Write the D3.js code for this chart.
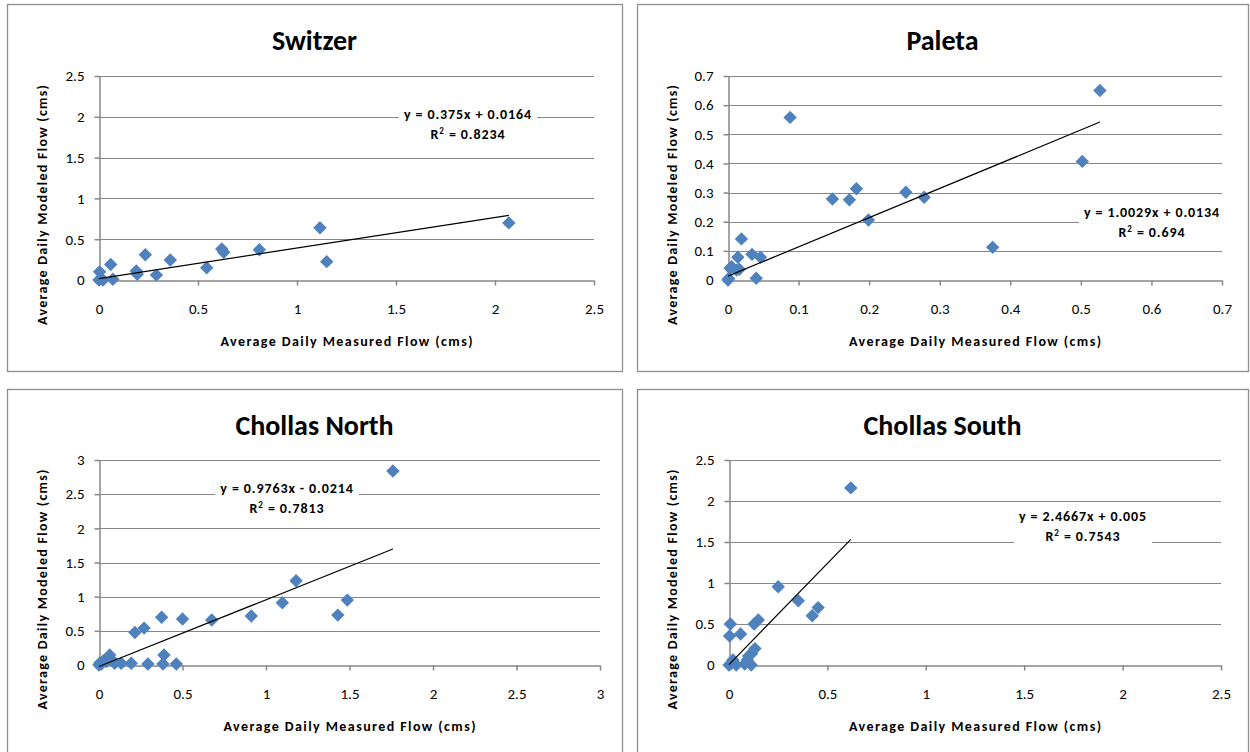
<!DOCTYPE html>
<html>
<head>
<meta charset="utf-8">
<script src="https://cdn.jsdelivr.net/npm/d3@7"></script>
<style>
body { margin: 0; background: #fff; }
svg text { font-family: Carlito, Calibri, Lato, sans-serif; fill: #000; }
</style>
</head>
<body>
<svg id="chart" width="1250" height="752"></svg>
<script>
// values (cms)
const switzerX = [0, 0.003, 0.01, 0.02, 0.059, 0.07, 0.188, 0.193, 0.234, 0.29, 0.36, 0.544, 0.62, 0.63, 0.81, 1.116, 1.15, 2.07]
const switzerY = [0, 0.10, 0.02, 0.0, 0.19, 0.01, 0.11, 0.07, 0.31, 0.06, 0.245, 0.15, 0.38, 0.34, 0.37, 0.64, 0.225, 0.70]
const switzerFit = [0.375, 0.0164, 0.8234]

const paletaX = [0, 0.001, 0.003, 0.005, 0.012, 0.014, 0.016, 0.019, 0.034, 0.04, 0.046, 0.088, 0.148, 0.172, 0.182, 0.199, 0.252, 0.278, 0.375, 0.502, 0.527]
const paletaY = [0, 0.005, 0.04, 0.046, 0.034, 0.078, 0.037, 0.141, 0.088, 0.006, 0.078, 0.558, 0.278, 0.275, 0.313, 0.206, 0.301, 0.284, 0.112, 0.407, 0.650]
const paletaFit = [1.0029, 0.0134, 0.694]

const northX = [0, 0.005, 0.014, 0.025, 0.044, 0.064, 0.07, 0.094, 0.133, 0.193, 0.215, 0.27, 0.293, 0.375, 0.383, 0.389, 0.463, 0.50, 0.675, 0.912, 1.098, 1.18, 1.43, 1.487, 1.76]
const northY = [0, 0.03, 0.015, 0.06, 0.05, 0.146, 0.09, 0.025, 0.025, 0.025, 0.475, 0.54, 0.015, 0.698, 0.015, 0.146, 0.015, 0.673, 0.659, 0.717, 0.91, 1.234, 0.73, 0.95, 2.84]
const northFit = [0.9763, -0.0214, 0.7813]

const southX = [0, 0.003, 0.007, 0.012, 0.02, 0.037, 0.059, 0.08, 0.093, 0.10, 0.113, 0.115, 0.128, 0.132, 0.149, 0.25, 0.352, 0.423, 0.453, 0.619]
const southY = [0, 0.354, 0.50, 0.02, 0.06, 0.0, 0.378, 0.012, 0.06, 0.11, 0.0, 0.14, 0.50, 0.20, 0.55, 0.955, 0.784, 0.60, 0.70, 2.16]
const southFit = [2.4667, 0.005, 0.7543]

const titles = ['Switzer', 'Paleta', 'Chollas North', 'Chollas South']
const xMaxes = [2.5, 0.7, 3, 2.5]
const yMaxes = [2.5, 0.7, 3, 2.5]
const xSteps = [0.5, 0.1, 0.5, 0.5]
const ySteps = [0.5, 0.1, 0.5, 0.5]
const xLabel = 'Average Daily Measured Flow (cms)'
const yLabel = 'Average Daily Modeled Flow (cms)'

// layout: panel box, plot area and where the trendline label sits
const panels = [
  {title: titles[0], xs: switzerX, ys: switzerY, fit: switzerFit, xMax: xMaxes[0], yMax: yMaxes[0], xStep: xSteps[0], yStep: ySteps[0],
   box: [7, 4, 615, 367], plot: [99, 76, 594, 280], lab: [468, 119]},
  {title: titles[1], xs: paletaX, ys: paletaY, fit: paletaFit, xMax: xMaxes[1], yMax: yMaxes[1], xStep: xSteps[1], yStep: ySteps[1],
   box: [637, 4, 611, 367], plot: [728, 76, 1222, 280], lab: [1152, 217]},
  {title: titles[2], xs: northX, ys: northY, fit: northFit, xMax: xMaxes[2], yMax: yMaxes[2], xStep: xSteps[2], yStep: ySteps[2],
   box: [7, 389, 615, 372], plot: [99, 460, 600, 665], lab: [287, 493]},
  {title: titles[3], xs: southX, ys: southY, fit: southFit, xMax: xMaxes[3], yMax: yMaxes[3], xStep: xSteps[3], yStep: ySteps[3],
   box: [637, 389, 611, 372], plot: [729, 460, 1221, 665], lab: [1083, 521]}
]

const gridColor = '#878787'
const markColor = '#4f81bd'
const fmt = d3.format('~g')

const svg = d3.select('#chart')

panels.forEach(function(p) {
  const [bx, by, bw, bh] = p.box
  const [px0, py0, px1, py1] = p.plot
  const g = svg.append('g')

  g.append('rect')
    .attr('x', bx + 0.5).attr('y', by + 0.5)
    .attr('width', bw).attr('height', bh)
    .attr('fill', '#fff')
    .attr('stroke', '#8f8f8f')
    .attr('stroke-width', 1.3)

  const x = d3.scaleLinear().domain([0, p.xMax]).range([px0, px1])
  const y = d3.scaleLinear().domain([0, p.yMax]).range([py1, py0])
  const xTicks = d3.range(0, p.xMax + p.xStep / 2, p.xStep).map(v => +v.toFixed(3))
  const yTicks = d3.range(0, p.yMax + p.yStep / 2, p.yStep).map(v => +v.toFixed(3))

  // horizontal gridlines
  g.append('g').selectAll('line')
    .data(yTicks.slice(1))
    .enter().append('line')
    .attr('x1', px0).attr('x2', px1)
    .attr('y1', d => Math.round(y(d)) + 0.5).attr('y2', d => Math.round(y(d)) + 0.5)
    .attr('stroke', gridColor)
    .attr('stroke-width', 1.2)

  const xAxis = g.append('g')
    .attr('transform', 'translate(0,' + (Math.round(py1) + 0.5) + ')')
    .call(d3.axisBottom(x).tickValues(xTicks).tickFormat(fmt).tickSize(5).tickSizeOuter(0).tickPadding(18))
  const yAxis = g.append('g')
    .attr('transform', 'translate(' + (Math.round(px0) + 0.5) + ',0)')
    .call(d3.axisLeft(y).tickValues(yTicks).tickFormat(fmt).tickSize(5).tickSizeOuter(0).tickPadding(10))

  ;[xAxis, yAxis].forEach(function(a) {
    a.selectAll('path, line').attr('stroke', gridColor).attr('stroke-width', 1.5)
    a.selectAll('text').style('font-size', '15px').attr('fill', '#000')
  })

  // title and axis titles
  g.append('text')
    .attr('x', bx + bw / 2).attr('y', by + 46)
    .attr('text-anchor', 'middle')
    .style('font-size', '28px').style('font-weight', 'bold')
    .text(p.title)

  g.append('text')
    .attr('x', (px0 + px1) / 2).attr('y', py1 + 66)
    .attr('text-anchor', 'middle')
    .attr('textLength', 252).attr('lengthAdjust', 'spacing')
    .style('font-size', '14px').style('font-weight', 'bold')
    .text(xLabel)

  g.append('text')
    .attr('transform', 'translate(' + (bx + 35) + ',' + ((py0 + py1) / 2 + 27) + ') rotate(-90)')
    .attr('text-anchor', 'middle')
    .attr('dy', '0.35em')
    .attr('textLength', 240).attr('lengthAdjust', 'spacing')
    .style('font-size', '14px').style('font-weight', 'bold')
    .text(yLabel)

  // points
  const pts = p.xs.map((v, i) => [v, p.ys[i]])
  g.append('g').selectAll('path')
    .data(pts)
    .enter().append('path')
    .attr('d', d3.symbol(d3.symbolSquare, 90))
    .attr('transform', d => 'translate(' + x(d[0]) + ',' + y(d[1]) + ') rotate(45)')
    .attr('fill', markColor)

  // linear trendline over the measured range
  const [slope, icpt, r2] = p.fit
  const xExt = d3.extent(p.xs)
  g.append('line')
    .attr('x1', x(xExt[0])).attr('y1', y(slope * xExt[0] + icpt))
    .attr('x2', x(xExt[1])).attr('y2', y(slope * xExt[1] + icpt))
    .attr('stroke', '#000')
    .attr('stroke-width', 1.2)

  // equation label on a white box
  const lab = g.append('g')
  const box = lab.append('rect').attr('fill', '#fff')
  const eq = 'y = ' + slope + 'x ' + (icpt < 0 ? '- ' : '+ ') + Math.abs(icpt)
  lab.append('text')
    .attr('x', p.lab[0]).attr('y', p.lab[1])
    .attr('text-anchor', 'middle')
    .style('font-size', '14px').style('font-weight', 'bold').style('letter-spacing', '0.9px')
    .text(eq)
  const t2 = lab.append('text')
    .attr('x', p.lab[0]).attr('y', p.lab[1] + 20)
    .attr('text-anchor', 'middle')
    .style('font-size', '14px').style('font-weight', 'bold').style('letter-spacing', '0.9px')
  t2.append('tspan').text('R')
  t2.append('tspan').attr('dy', -5).style('font-size', '9px').text('2')
  t2.append('tspan').attr('dy', 5).text(' = ' + r2)
  const bb = lab.node().getBBox()
  box.attr('x', bb.x - 5).attr('y', bb.y - 4)
    .attr('width', bb.width + 10).attr('height', bb.height + 8)
})
</script>
</body>
</html>
